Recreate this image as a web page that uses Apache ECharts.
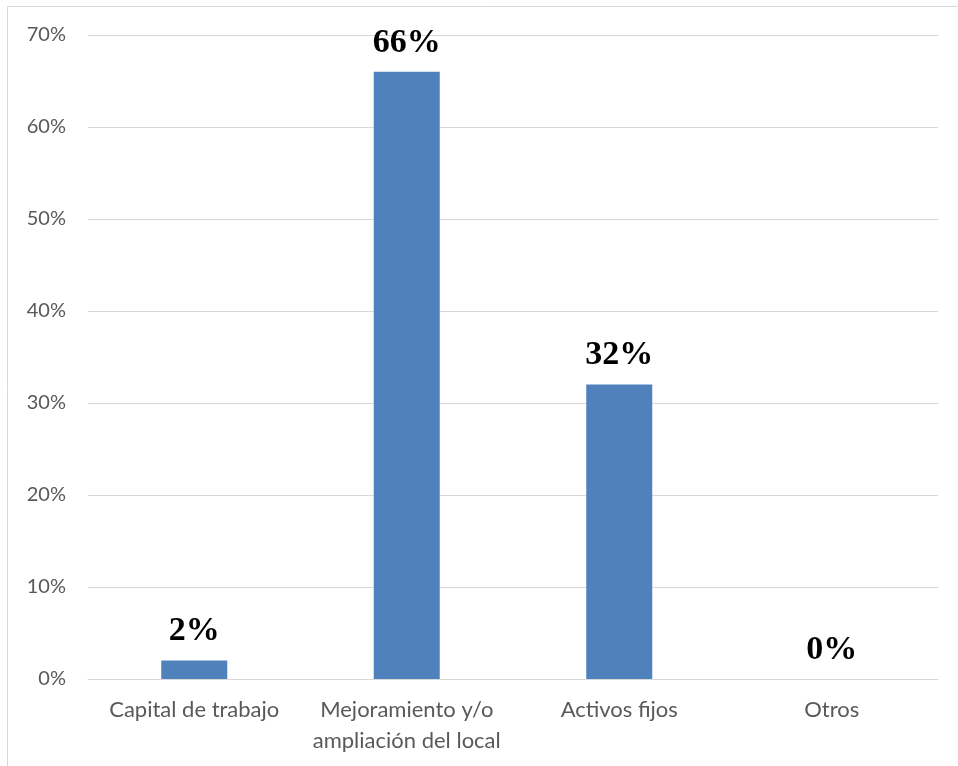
<!DOCTYPE html>
<html><head><meta charset="utf-8">
<script src="https://cdn.jsdelivr.net/npm/echarts@6/dist/echarts.min.js"></script>
<style>html,body{margin:0;padding:0;background:#fff}#c{width:958px;height:766px}</style>
</head><body><div id="c"></div>
<script>
const categories = ['Capital de trabajo', 'Mejoramiento y/o\nampliación del local', 'Activos fijos', 'Otros'];
const values = [2, 66, 32, 0];
const yTicks = [0, 10, 20, 30, 40, 50, 60, 70];

const chart = echarts.init(document.getElementById('c'));
chart.setOption({
  animation: false,
  grid: { left: 88, right: 20, top: 35, bottom: 87, containLabel: false },
  graphic: [
    { type: 'line', shape: { x1: 7.5, y1: 6.5, x2: 958, y2: 6.5 }, style: { stroke: '#d9d9d9', lineWidth: 1 } },
    { type: 'line', shape: { x1: 7.5, y1: 6.5, x2: 7.5, y2: 766 }, style: { stroke: '#d9d9d9', lineWidth: 1 } }
  ],
  xAxis: {
    type: 'category',
    data: categories,
    axisLine: { show: true, lineStyle: { color: '#d9d9d9', width: 1 } },
    axisTick: { show: false },
    axisLabel: { color: '#595959', fontFamily: 'Lato', fontSize: 22, margin: 15, lineHeight: 31, interval: 0 }
  },
  yAxis: {
    type: 'value', min: yTicks[0], max: yTicks[yTicks.length - 1], interval: 10,
    axisLine: { show: false }, axisTick: { show: false },
    splitLine: { lineStyle: { color: '#d9d9d9', width: 1 } },
    axisLabel: { color: '#595959', fontFamily: 'Lato', fontSize: 20, margin: 22, formatter: v => v + '%' }
  },
  series: [{
    type: 'bar', data: values, barWidth: 66,
    itemStyle: { color: '#4f81bd' },
    label: {
      show: true, position: 'top', distance: 12,
      formatter: p => p.value + '%',
      fontFamily: '"Liberation Serif", "Times New Roman", serif', fontWeight: 'bold', fontSize: 34, color: '#000'
    }
  }]
});
</script></body></html>
